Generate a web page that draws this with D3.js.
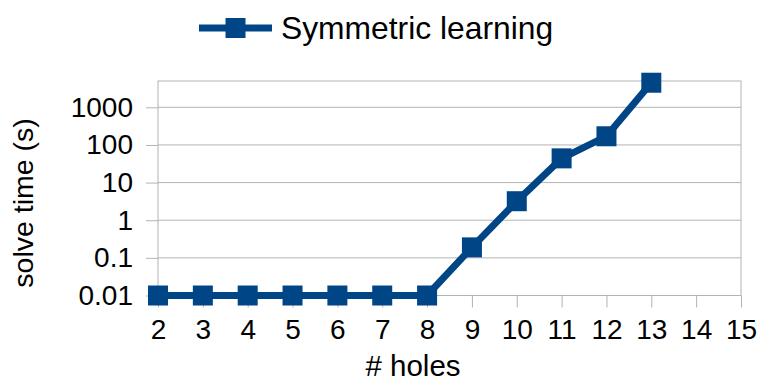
<!DOCTYPE html>
<html>
<head>
<meta charset="utf-8">
<script src="https://cdn.jsdelivr.net/npm/d3@7"></script>
<style>
  body { margin: 0; background: #fff; }
  svg { font-family: "Liberation Sans", Arial, sans-serif; }
</style>
</head>
<body>
<div id="chart"></div>
<script>
// --- Data ---
const holes = [2, 3, 4, 5, 6, 7, 8, 9, 10, 11, 12, 13];
const solveTime = [0.01, 0.01, 0.01, 0.01, 0.01, 0.01, 0.01, 0.19, 3.2, 44, 170, 4500];
const xTicks = [2, 3, 4, 5, 6, 7, 8, 9, 10, 11, 12, 13, 14, 15];
const yTicks = [0.01, 0.1, 1, 10, 100, 1000];
const seriesName = "Symmetric learning";

// --- Layout ---
const W = 770, H = 386;
const plot = { left: 158, right: 741, top: 81, bottom: 295.5 };
const blue = "#004586";
const grid = "#b3b3b3";
const fs = 28;

const svg = d3.select("#chart").append("svg").attr("width", W).attr("height", H);

const x = d3.scaleLinear().domain([2, 15]).range([plot.left, plot.right]);
const y = d3.scaleLog().domain([0.01, 5000]).range([plot.bottom, plot.top]);

// Grid
svg.append("g").selectAll("line").data(yTicks).enter().append("line")
    .attr("x1", plot.left).attr("x2", plot.right)
    .attr("y1", d => y(d)).attr("y2", d => y(d))
    .attr("stroke", grid).attr("stroke-width", 1);

// Frame
svg.append("rect").attr("x", plot.left).attr("y", plot.top)
    .attr("width", plot.right - plot.left).attr("height", plot.bottom - plot.top)
    .attr("fill", "none").attr("stroke", grid).attr("stroke-width", 1);

// Y axis
const yAxis = svg.append("g").attr("transform", `translate(${plot.left},0)`)
    .call(d3.axisLeft(y).tickValues(yTicks).tickSize(12).tickPadding(13)
        .tickFormat(d => String(d)));
yAxis.select(".domain").remove();
yAxis.selectAll(".tick line").attr("stroke", grid);
yAxis.selectAll(".tick text").attr("font-size", fs).attr("fill", "#000")
    .attr("font-family", "Liberation Sans, Arial, sans-serif");

// X axis
const xAxis = svg.append("g").attr("transform", `translate(0,${plot.bottom})`)
    .call(d3.axisBottom(x).tickValues(xTicks).tickSize(12).tickPadding(12)
        .tickFormat(d3.format("d")));
xAxis.select(".domain").remove();
xAxis.selectAll(".tick line").attr("stroke", grid);
xAxis.selectAll(".tick text").attr("font-size", fs).attr("fill", "#000")
    .attr("font-family", "Liberation Sans, Arial, sans-serif");

// Axis titles
svg.append("text").attr("x", 413).attr("y", 376).attr("text-anchor", "middle")
    .attr("font-size", 29.5).text("# holes");
svg.append("text").attr("transform", "translate(33,203) rotate(-90)")
    .attr("text-anchor", "middle").attr("font-size", 28.5).text("solve time (s)");

// Series
const line = d3.line().x((d, i) => x(holes[i])).y(d => y(d));
svg.append("path").datum(solveTime).attr("d", line)
    .attr("fill", "none").attr("stroke", blue).attr("stroke-width", 7)
    .attr("stroke-linejoin", "miter");

const ms = 20;
svg.append("g").selectAll("rect").data(solveTime).enter().append("rect")
    .attr("x", (d, i) => x(holes[i]) - ms / 2)
    .attr("y", d => y(d) - ms / 2)
    .attr("width", ms).attr("height", ms)
    .attr("fill", blue);

// Legend
const lg = svg.append("g");
lg.append("line").attr("x1", 199).attr("x2", 272).attr("y1", 28).attr("y2", 28)
    .attr("stroke", blue).attr("stroke-width", 7);
lg.append("rect").attr("x", 225.5).attr("y", 18).attr("width", ms).attr("height", ms).attr("fill", blue);
lg.append("text").attr("x", 281).attr("y", 39).attr("font-size", 31.8).text(seriesName);
</script>
</body>
</html>
